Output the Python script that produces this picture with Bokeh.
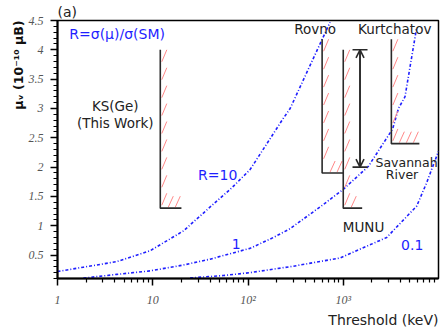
import math
from bokeh.plotting import figure
from bokeh.models import Range1d, FixedTicker, Label, Arrow, OpenHead, TeeHead, Title
from bokeh.embed import file_html
from bokeh.resources import INLINE

# ---- data ----
# iso-ratio curves R = sigma(mu)/sigma(SM): threshold (keV) vs mu_nu (1e-10 mu_B)
r10_T = [1, 1.87, 4.2, 9.4, 21, 47, 67.6, 105, 228, 277, 727]
r10_mu = [0.218, 0.293, 0.388, 0.574, 0.912, 1.42, 1.646, 1.956, 2.80, 3.0, 4.47]
r1_T = [1.87, 4.2, 9.4, 21, 40, 105, 185, 277, 604, 1000, 1830, 3300, 3800, 4450, 5900]
r1_mu = [0.107, 0.17, 0.23, 0.33, 0.43, 0.614, 0.80, 0.95, 1.35, 1.62, 2.01, 2.65, 3.0, 3.2, 4.38]
r01_T = [24.7, 55, 105, 300, 925, 2860, 5900, 7500, 10000]
r01_mu = [0.11, 0.15, 0.20, 0.31, 0.45, 0.80, 1.335, 1.73, 2.27]

# experiments: limit boxes
exp_names = ["KS(Ge)", "Rovno", "MUNU", "Kurtchatov"]
exp_T = [12, 600, 1000, 3200]
exp_limit = [1.3, 1.9, 1.3, 2.4]
exp_top = [4.0, 4.18, 4.0, 4.18]
exp_T_end = [20, 1000, 1580, 6300]

# Savannah River range
sr_T = [1500]
sr_low = [2.0]
sr_high = [4.0]

x_major = [1, 10, 100, 1000]
x_labels = ["1", "10", "10²", "10³"]
x_minor = [m * 10 ** k for k in range(4) for m in range(2, 10)]
y_major = [0.5, 1.0, 1.5, 2.0, 2.5, 3.0, 3.5, 4.0, 4.5]
y_labels = ["0.5", "1", "1.5", "2", "2.5", "3", "3.5", "4", "4.5"]
y_minor = [round(0.1 * i, 1) for i in range(1, 46) if i % 5 != 0]

# ---- figure ----
BLUE = "#1f1fff"
FONT = "DejaVu Sans"
p = figure(width=442, height=327, x_axis_type="log",
           x_range=Range1d(1, 1e4), y_range=Range1d(0.1, 4.5),
           output_backend="svg", toolbar_location=None,
           min_border_left=57, min_border_right=4, min_border_top=20, min_border_bottom=48)
p.xgrid.visible = False
p.ygrid.visible = False
p.outline_line_color = "black"
p.outline_line_width = 1.5
p.background_fill_color = "white"
p.border_fill_color = "white"

p.xaxis.ticker = FixedTicker(ticks=x_major, minor_ticks=x_minor)
p.xaxis.major_label_overrides = dict(zip(x_major, x_labels))
p.yaxis.ticker = FixedTicker(ticks=y_major, minor_ticks=y_minor)
p.yaxis.major_label_overrides = dict(zip(y_major, y_labels))
for ax in (p.xaxis, p.yaxis):
    ax.axis_line_width = 2
    ax.axis_line_color = "black"
    ax.major_tick_in = 0
    ax.major_tick_out = 7
    ax.minor_tick_in = 0
    ax.minor_tick_out = 4
    ax.major_tick_line_width = 1.5
    ax.minor_tick_line_width = 1.2
    ax.major_label_text_font = "Liberation Serif"
    ax.major_label_text_font_style = "italic"
    ax.major_label_text_font_size = "12px"
    ax.major_label_text_color = "#555555"
p.xaxis.major_label_standoff = 7
p.yaxis.major_label_standoff = 7

# titles placed in the side panels (text outside the frame)
p.add_layout(Title(text="(a)", align="left", text_font=FONT, text_font_size="14px",
                   text_font_style="normal", text_color="#222222", standoff=1), "above")
p.add_layout(Title(text="Threshold (keV)", align="right", text_font=FONT,
                   text_font_size="14px", text_font_style="normal",
                   text_color="#222222", standoff=0), "below")
p.add_layout(Title(text="μᵥ (10⁻¹⁰ μB)", align="right", text_font=FONT,
                   text_font_size="12.5px", text_font_style="bold",
                   text_color="#111111", standoff=0), "left")

# curves
for T, mu in ((r10_T, r10_mu), (r1_T, r1_mu), (r01_T, r01_mu)):
    p.line(T, mu, line_color=BLUE, line_width=1.6, line_dash="3 2 1 2")

# hatch marks (pixel-sized, converted to data offsets)
PX_DEC = 381 / 4.0
PX_UNIT = 259 / 4.4
def fx(px):
    return 10 ** (px / PX_DEC)
hx0, hx1, hy0, hy1 = [], [], [], []
for T, lim, top, Te in zip(exp_T, exp_limit, exp_top, exp_T_end):
    h = 12 / PX_UNIT
    step = 18 / PX_UNIT
    y = top - h
    while y >= lim - 0.01:
        hx0.append(T * fx(1.5)); hx1.append(T * fx(6.5))
        hy0.append(y); hy1.append(y + h)
        y -= step
    x = T * fx(8)
    while x * fx(5) <= Te * fx(1):
        hx0.append(x); hx1.append(x * fx(5))
        hy0.append(lim + 1 / PX_UNIT); hy1.append(lim + h)
        x *= fx(7)
p.segment(hx0, hy0, hx1, hy1, line_color="#ff7a7a", line_width=0.9)

# experiment boxes
xs = [[T, T, Te] for T, Te in zip(exp_T, exp_T_end)]
ys = [[top, lim, lim] for top, lim in zip(exp_top, exp_limit)]
p.multi_line(xs, ys, line_color="#2a2a2a", line_width=1.6)

# Savannah River double arrow with bars
p.add_layout(Arrow(start=TeeHead(size=15, line_width=1.6, line_color="#2a2a2a"),
                   end=TeeHead(size=15, line_width=1.6, line_color="#2a2a2a"),
                   x_start=sr_T[0], y_start=sr_high[0], x_end=sr_T[0], y_end=sr_low[0],
                   line_width=1.6, line_color="#2a2a2a"))
p.add_layout(Arrow(start=OpenHead(size=8, line_width=1.6, line_color="#2a2a2a"),
                   end=OpenHead(size=8, line_width=1.6, line_color="#2a2a2a"),
                   x_start=sr_T[0], y_start=sr_high[0], x_end=sr_T[0], y_end=sr_low[0],
                   line_width=1.6, line_color="#2a2a2a"))

def lab(text, x, y, align="left", color="#222222", size="13.5px"):
    p.add_layout(Label(x=x, y=y, text=text, text_align=align, text_baseline="middle",
                       text_color=color, text_font=FONT, text_font_size=size))

lab("R=σ(μ)/σ(SM)", 1.33, 4.27, color=BLUE, size="14px")
lab(exp_names[0], 4.04, 3.05, align="center")
lab("(This Work)", 4.04, 2.75, align="center")
lab("R=10", 29.9, 1.87, color=BLUE, size="14px")
lab("1", 67.6, 0.69, color=BLUE, size="14px")
lab("0.1", 4044, 0.675, color=BLUE, size="14px")
lab(exp_names[1], 305, 4.36)
lab(exp_names[3], 1429, 4.36)
lab(exp_names[2], 1633, 0.98, align="center")
lab("Savannah", 2180, 2.07, size="12.5px")
lab("River", 2800, 1.87, size="12.5px")

open("out.html", "w").write(file_html(p, INLINE))
